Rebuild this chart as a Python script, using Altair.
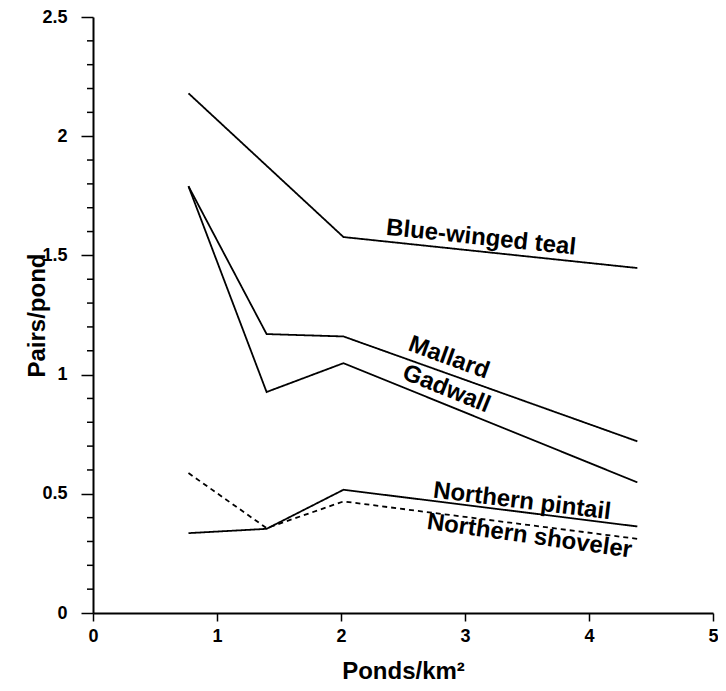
import altair as alt
import pandas as pd

# Data
ponds = [0.77, 1.40, 2.02, 4.39]
species = ["Blue-winged teal", "Mallard", "Gadwall", "Northern pintail", "Northern shoveler"]
blue_winged_teal = [2.18, None, 1.577, 1.447]
mallard = [1.79, 1.17, 1.16, 0.72]
gadwall = [1.79, 0.927, 1.048, 0.548]
northern_pintail = [0.335, 0.353, 0.517, 0.363]
northern_shoveler = [0.587, 0.356, 0.468, 0.311]

series = [blue_winged_teal, mallard, gadwall, northern_pintail, northern_shoveler]
rows = []
for name, vals in zip(species, series):
    for i, (x, v) in enumerate(zip(ponds, vals)):
        if v is not None:
            rows.append({"species": name, "ponds": x, "pairs": v, "order": i})
df = pd.DataFrame(rows)

# Direct labels
label_text = species
label_x = [3.13, 2.87, 2.85, 3.46, 3.52]
label_y = [1.574, 1.07, 0.94, 0.468, 0.322]
label_angle = [6, 20, 22, 7, 8]
labels = pd.DataFrame({"text": label_text, "x": label_x, "y": label_y, "angle": label_angle})

# Axis ticks
x_ticks = [0, 1, 2, 3, 4, 5]
y_major = [0, 0.5, 1, 1.5, 2, 2.5]
y_minor = [0.1, 0.2, 0.3, 0.4, 0.6, 0.7, 0.8, 0.9, 1.1, 1.2, 1.3, 1.4,
           1.6, 1.7, 1.8, 1.9, 2.1, 2.2, 2.3, 2.4]
minor_df = pd.DataFrame({"tick": y_minor})

FONT = "Liberation Sans"

x_scale = alt.Scale(domain=[0, 5], nice=False, zero=False)
y_scale = alt.Scale(domain=[0, 2.5], nice=False)

x_axis = alt.Axis(
    title="Ponds/km²",
    values=x_ticks,
    format="d",
    grid=False,
    labelFlush=False,
    labelOverlap=False,
    tickSize=8,
    labelPadding=6,
    titlePadding=14,
)
y_axis = alt.Axis(
    title="Pairs/pond",
    values=y_major,
    format="~g",
    grid=False,
    labelFlush=False,
    labelOverlap=False,
    tickSize=12,
    labelPadding=14,
    titleX=-44,
)

lines = alt.Chart(df).mark_line(color="black", strokeWidth=1.8).encode(
    x=alt.X("ponds:Q", scale=x_scale, axis=x_axis),
    y=alt.Y("pairs:Q", scale=y_scale, axis=y_axis),
    detail="species:N",
    order="order:Q",
    strokeDash=alt.StrokeDash(
        "species:N",
        scale=alt.Scale(domain=species, range=[[1, 0], [1, 0], [1, 0], [1, 0], [5, 4]]),
        legend=None,
    ),
)

minor = alt.Chart(minor_df).mark_rule(color="black", strokeWidth=1.5).encode(
    y=alt.Y("tick:Q", scale=y_scale),
    x=alt.value(-6),
    x2=alt.value(0),
)

text = alt.Chart(labels).mark_text(
    font=FONT, fontSize=24, fontWeight="bold", align="center", baseline="middle", color="black"
).encode(
    x=alt.X("x:Q", scale=x_scale),
    y=alt.Y("y:Q", scale=y_scale),
    text="text:N",
    angle=alt.Angle("angle:Q", scale=None),
)

chart = (
    alt.layer(lines, minor, text)
    .properties(
        width=620,
        height=596,
        autosize=alt.AutoSizeParams(type="none"),
        padding={"left": 85, "top": 9, "right": 5, "bottom": 70},
    )
    .configure_view(stroke=None)
    .configure_axis(
        domainColor="black",
        domainWidth=2,
        tickColor="black",
        tickWidth=1.5,
        labelFont=FONT,
        labelFontSize=18,
        labelFontWeight="bold",
        labelColor="black",
        titleFont=FONT,
        titleFontSize=24,
        titleFontWeight="bold",
        titleColor="black",
    )
)

chart.save("out.html", embed_options={"renderer": "svg", "actions": False})
